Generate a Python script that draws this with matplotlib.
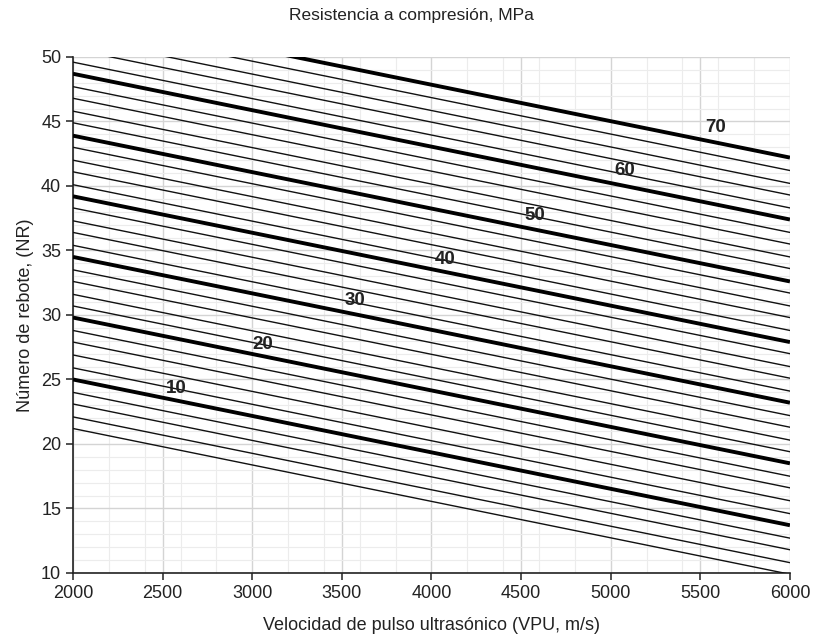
import matplotlib
matplotlib.use("Agg")
import matplotlib.pyplot as plt
from matplotlib.ticker import MultipleLocator

# strength levels (MPa) of the iso-strength lines
levels = [2, 4, 6, 8, 10, 12, 14, 16, 18, 20, 22, 24, 26, 28, 30, 32, 34, 36,
          38, 40, 42, 44, 46, 48, 50, 52, 54, 56, 58, 60, 62, 64, 66, 68, 70]

# rebound number of each line at VPU = 2000 and 6000 m/s
nr_2000 = [21.2, 22.1, 23.1, 24.0, 25.0, 25.9, 26.9, 27.9, 28.8, 29.8, 30.7,
           31.6, 32.6, 33.5, 34.5, 35.4, 36.4, 37.3, 38.3, 39.2, 40.1, 41.1,
           42.0, 43.0, 43.9, 44.9, 45.8, 46.8, 47.7, 48.7, 49.6, 50.6, 51.5,
           52.5, 53.5]
nr_6000 = [9.9, 10.8, 11.8, 12.7, 13.7, 14.6, 15.6, 16.6, 17.5, 18.5, 19.4,
           20.3, 21.3, 22.2, 23.2, 24.1, 25.1, 26.0, 27.0, 27.9, 28.8, 29.8,
           30.7, 31.7, 32.6, 33.6, 34.5, 35.5, 36.4, 37.4, 38.3, 39.3, 40.2,
           41.2, 42.2]
vpu_ends = [2000, 6000]

# labels of the thick lines
label_vals = ["10", "20", "30", "40", "50", "60", "70"]
label_x = [2575, 3060, 3573, 4075, 4577, 5079, 5587]
label_y = [24.3, 27.7, 31.1, 34.3, 37.75, 41.2, 44.5]

plt.rcParams['font.family'] = ['Liberation Sans', 'DejaVu Sans']

fig = plt.figure(figsize=(8.22, 6.36), dpi=100)
ax = fig.add_axes([0.0888, 0.0991, 0.961 - 0.0888, 0.9104 - 0.0991])

for s, a, b in zip(levels, nr_2000, nr_6000):
    if s % 10 == 0:
        ax.plot(vpu_ends, [a, b], color='black', lw=2.8, solid_capstyle='butt', zorder=3)
    else:
        ax.plot(vpu_ends, [a, b], color='#111111', lw=1.0, zorder=3)

for t, x, y in zip(label_vals, label_x, label_y):
    ax.text(x, y, t, ha='center', va='center', fontsize=13.5,
            fontweight='bold', color='#222222', zorder=4)

ax.set_xlim(2000, 6000)
ax.set_ylim(10, 50)
ax.xaxis.set_major_locator(MultipleLocator(500))
ax.xaxis.set_minor_locator(MultipleLocator(200))
ax.yaxis.set_major_locator(MultipleLocator(5))
ax.yaxis.set_minor_locator(MultipleLocator(1))

ax.grid(which='major', color='#d4d4d4', lw=1.0, zorder=0)
ax.grid(which='minor', color='#ececec', lw=0.8, zorder=0)
ax.set_axisbelow(True)

for side in ['top', 'right']:
    ax.spines[side].set_visible(False)
for side in ['left', 'bottom']:
    ax.spines[side].set_color('#222222')
    ax.spines[side].set_linewidth(1.2)

ax.tick_params(which='major', direction='out', length=5, width=1.1,
               labelsize=13, colors='#222222')
ax.tick_params(which='minor', length=0)

ax.set_xlabel('Velocidad de pulso ultrasónico (VPU, m/s)', fontsize=13,
              color='#222222', labelpad=11)
ax.set_ylabel('Número de rebote, (NR)', fontsize=13, color='#222222', labelpad=5)
fig.text(0.5, 0.976, 'Resistencia a compresión, MPa', ha='center', va='center',
         fontsize=12.5, color='#222222')

fig.savefig('out.png', dpi=100)
